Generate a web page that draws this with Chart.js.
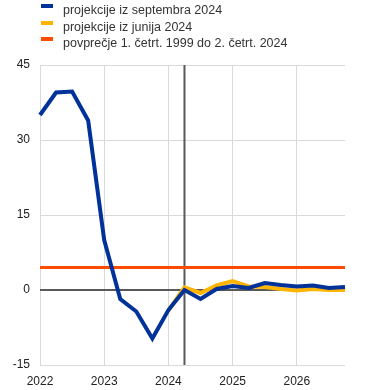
<!DOCTYPE html>
<html>
<head>
<meta charset="utf-8">
<script src="https://cdn.jsdelivr.net/npm/chart.js@4"></script>
<style>
  body { margin: 0; background: #fff; }
  #wrap { position: relative; width: 373px; height: 390px; }
  #legend { position: absolute; left: 0; top: 0; width: 373px; font: 12.5px "Liberation Sans", Arial, sans-serif; color: #333; }
  .box { position: absolute; left: 41px; width: 12px; height: 4px; }
  .txt { position: absolute; left: 63px; white-space: nowrap; line-height: 16px; }
</style>
</head>
<body>
<div id="wrap">
  <canvas id="c" width="373" height="390"></canvas>
  <div id="legend"></div>
</div>
<script>
// quarters 2022Q1 .. 2026Q4
const quarters = [
  '2022Q1','2022Q2','2022Q3','2022Q4',
  '2023Q1','2023Q2','2023Q3','2023Q4',
  '2024Q1','2024Q2','2024Q3','2024Q4',
  '2025Q1','2025Q2','2025Q3','2025Q4',
  '2026Q1','2026Q2','2026Q3','2026Q4'
];
const sept2024 = [35, 39.5, 39.7, 33.9, 10, -1.8, -4.3, -9.7, -4, 0, -1.8, 0.2, 0.8, 0.4, 1.4, 1.0, 0.7, 0.9, 0.4, 0.6];
const june2024 = [null, null, null, null, null, null, null, null, -4.1, 0.5, -0.6, 0.9, 1.8, 0.7, 0.6, 0.2, -0.1, 0.2, 0, 0];
const avgLevel = 4.5;
const labels = ['projekcije iz septembra 2024', 'projekcije iz junija 2024', 'povprečje 1. četrt. 1999 do 2. četrt. 2024'];
const colors = ['#003299', '#ffb400', '#ff4b00'];
const yTicks = [-15, 0, 15, 30, 45];
const cutoff = '2024Q2';

const avg = quarters.map(() => avgLevel);

// legend
const leg = document.getElementById('legend');
labels.forEach((l, i) => {
  const top = i * 16.7;
  leg.insertAdjacentHTML('beforeend',
    '<div class="box" style="top:' + (4 + top) + 'px;background:' + colors[i] + '"></div>' +
    '<div class="txt" style="top:' + (2 + top) + 'px">' + l + '</div>');
});

const cutoffLine = {
  id: 'cutoffLine',
  beforeDatasetsDraw(chart) {
    const x = chart.scales.x.getPixelForValue(quarters.indexOf(cutoff));
    const a = chart.chartArea, ctx = chart.ctx;
    ctx.save();
    ctx.strokeStyle = '#595959';
    ctx.lineWidth = 2;
    ctx.beginPath();
    ctx.moveTo(x, a.top);
    ctx.lineTo(x, a.bottom);
    ctx.stroke();
    ctx.restore();
  }
};

new Chart(document.getElementById('c'), {
  type: 'line',
  data: {
    labels: quarters,
    datasets: [
      { label: labels[0], data: sept2024, borderColor: colors[0], borderWidth: 4, pointRadius: 0, tension: 0 },
      { label: labels[1], data: june2024, borderColor: colors[1], borderWidth: 4, pointRadius: 0, tension: 0 },
      { label: labels[2], data: avg, borderColor: colors[2], borderWidth: 3, pointRadius: 0, tension: 0 }
    ]
  },
  options: {
    responsive: false,
    animation: false,
    layout: { padding: { top: 65, right: 28, left: 0, bottom: 0 } },
    plugins: { legend: { display: false }, tooltip: { enabled: false } },
    scales: {
      x: {
        offset: false,
        border: { display: false },
        grid: {
          drawTicks: false,
          color: (c) => (c.index % 4 === 0 ? '#d9d9d9' : 'rgba(0,0,0,0)'),
          lineWidth: 1
        },
        ticks: {
          autoSkip: false, maxRotation: 0, padding: 9,
          color: '#222',
          font: { family: 'Liberation Sans', size: 12 },
          callback: (v, i) => (i % 4 === 0 ? quarters[i].slice(0, 4) : '')
        },
        afterFit: (s) => { s.height = 25; }
      },
      y: {
        min: -15, max: 45,
        border: { display: false },
        afterBuildTicks: (s) => { s.ticks = yTicks.map(v => ({ value: v })); },
        grid: {
          drawTicks: false,
          color: (c) => (c.tick && c.tick.value === 0 ? '#595959' : '#d9d9d9'),
          lineWidth: (c) => (c.tick && c.tick.value === 0 ? 2 : 1)
        },
        ticks: {
          padding: 10,
          color: '#222',
          font: { family: 'Liberation Sans', size: 12 }
        },
        afterFit: (s) => { s.width = 40; }
      }
    }
  },
  plugins: [cutoffLine]
});
</script>
</body>
</html>
